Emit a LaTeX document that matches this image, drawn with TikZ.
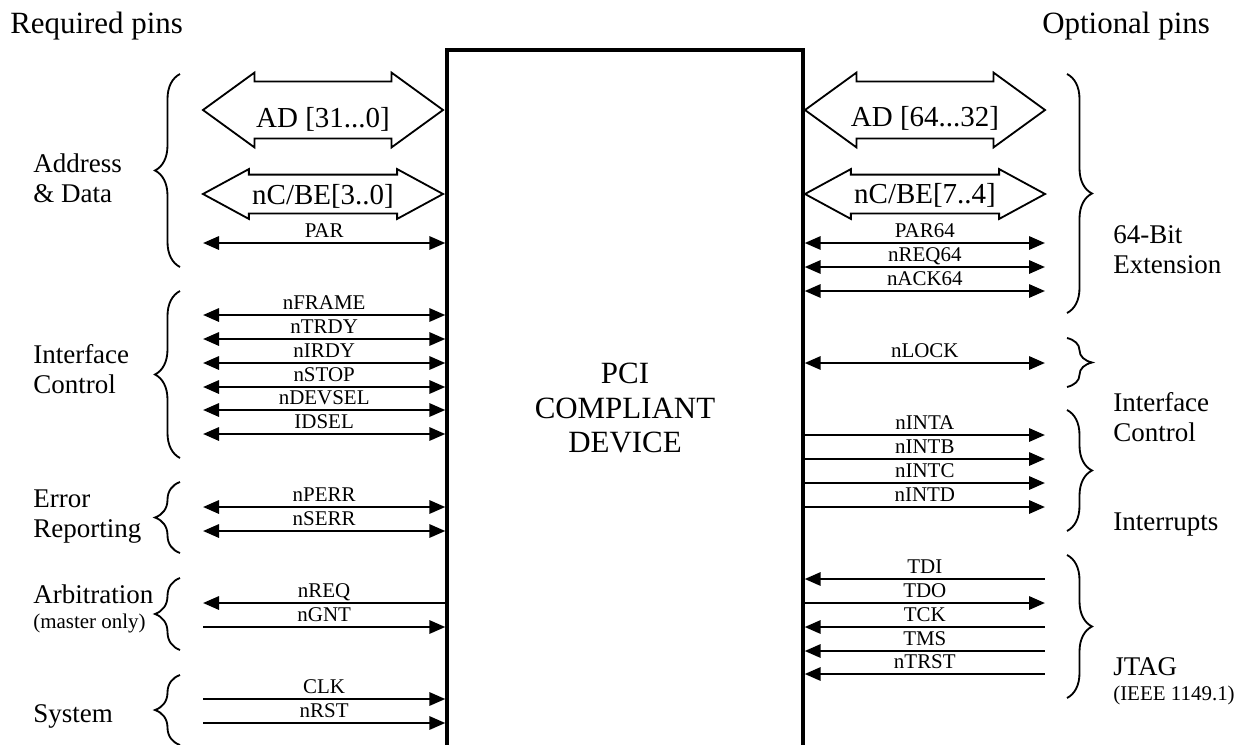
\documentclass[tikz,border=0pt]{standalone}
\usepackage{fontspec}
\setmainfont{Liberation Serif}
\usetikzlibrary{arrows.meta,shapes.arrows,decorations.pathreplacing}
\newcommand\headfont{\fontsize{22}{26}\selectfont}
\newcommand\grpfont{\fontsize{19.2}{21.3}\selectfont}
\newcommand\busfont{\fontsize{20.6}{24}\selectfont}
\newcommand\pinfont{\fontsize{14.9}{17}\selectfont}
\newcommand\chipfont{\fontsize{22}{24.2}\selectfont}

\begin{document}
\begin{tikzpicture}[
    x=0.025cm, y=-0.025cm,
    >={Triangle[length=0.4cm, width=0.33cm]},
    device/.style={draw, line width=2.3pt, minimum width=8.9cm,
                   minimum height=18.75cm, inner sep=0pt},
    chiptext/.style={font=\chipfont, align=center, inner sep=0pt},
    bus/.style={double arrow, draw, line width=1.3pt, inner xsep=0pt,
                inner ysep=0.6875cm,
                double arrow tip angle=72, double arrow head extend=0.225cm,
                minimum width=1.825cm, minimum height=6cm},
    smallbus/.style={bus, inner ysep=0.4625cm, double arrow tip angle=57,
                     double arrow head extend=0.1375cm, minimum width=1.2cm},
    buslabel/.style={font=\busfont, inner sep=0pt, anchor=base},
    wire/.style={line width=1.8pt},
    pinlabel/.style={font=\pinfont, inner sep=0pt, anchor=base, yshift=3.6pt},
    group/.style={font=\grpfont, align=left, inner sep=0pt, anchor=base west},
    hint/.style={font=\pinfont, inner sep=0pt, anchor=base west},
    title/.style={font=\headfont, inner sep=0pt, anchor=base west},
    bracket/.style={decorate, decoration={brace, amplitude=0.625cm},
                    line width=1.3pt},
]
\useasboundingbox (0,0) rectangle (1243,744);
\clip (0,0) rectangle (1243,744);

% headings
\node[title] (req) at (10,33) {Required pins};
\node[title] (opt) at (1042,33) {Optional pins};

% the device, open at the bottom of the page
\node[device] (dev) at (625,425) {};
\node[chiptext] (devname) at (625,408) {PCI\\COMPLIANT\\DEVICE};

% =====================================================================
% required pins (left)
% =====================================================================
\node[bus] (adlo) at (323,110) {};
\node[buslabel] (adlotext) at (323,127) {AD [31...0]};
\node[smallbus] (cbelo) at (323,194) {};
\node[buslabel] (cbelotext) at (323,204) {nC/BE[3..0]};

% bidirectional
\foreach \y/\pin in {243/PAR, 315/nFRAME, 339/nTRDY, 363/nIRDY, 387/nSTOP,
                     410/nDEVSEL, 434/IDSEL, 507/nPERR, 531/nSERR} {
    \coordinate (L\pin) at (203,\y);
    \draw[wire,<->] (L\pin) -- (L\pin -| dev.west)
        node[pinlabel, midway] (t\pin) {\pin};
}
% inputs
\foreach \y/\pin in {627/nGNT, 699/CLK, 723/nRST} {
    \coordinate (L\pin) at (203,\y);
    \draw[wire,->] (L\pin) -- (L\pin -| dev.west)
        node[pinlabel, midway] (t\pin) {\pin};
}
% outputs
\foreach \y/\pin in {603/nREQ} {
    \coordinate (L\pin) at (203,\y);
    \draw[wire,<-] (L\pin) -- (L\pin -| dev.west)
        node[pinlabel, midway] (t\pin) {\pin};
}

% groups (base = last line)
\draw[bracket] (180,267) -- (180,74);
\draw[bracket] (180,458) -- (180,291);
\draw[bracket] (180,553) -- (180,482);
\draw[bracket] (180,650) -- (180,578);
\draw[bracket] (180,745) -- (180,675);
\node[group] (gaddr) at (33,202) {Address\\\& Data};
\node[group] (gifc) at (33,393) {Interface\\Control};
\node[group] (gerr) at (33,537) {Error\\Reporting};
\node[group] (garb) at (33,603) {Arbitration};
\node[hint] (garbnote) at (33,628) {(master only)};
\node[group] (gsys) at (33,722) {System};

% =====================================================================
% optional pins (right)
% =====================================================================
\node[bus] (adhi) at (925,110) {};
\node[buslabel] (adhitext) at (925,126) {AD [64...32]};
\node[smallbus] (cbehi) at (925,194) {};
\node[buslabel] (cbehitext) at (925,203) {nC/BE[7..4]};

% bidirectional
\foreach \y/\pin in {243/PAR64, 267/nREQ64, 291/nACK64, 363/nLOCK} {
    \coordinate (R\pin) at (1045,\y);
    \draw[wire,<->] (R\pin -| dev.east) -- (R\pin)
        node[pinlabel, midway] (t\pin) {\pin};
}
% outputs
\foreach \y/\pin in {435/nINTA, 459/nINTB, 483/nINTC, 507/nINTD, 603/TDO} {
    \coordinate (R\pin) at (1045,\y);
    \draw[wire,->] (R\pin -| dev.east) -- (R\pin)
        node[pinlabel, midway] (t\pin) {\pin};
}
% inputs
\foreach \y/\pin in {579/TDI, 627/TCK, 651/TMS, 674/nTRST} {
    \coordinate (R\pin) at (1045,\y);
    \draw[wire,<-] (R\pin -| dev.east) -- (R\pin)
        node[pinlabel, midway] (t\pin) {\pin};
}

% groups
\draw[bracket] (1067,74) -- (1067,313);
\draw[bracket] (1067,338) -- (1067,387);
\draw[bracket] (1067,410) -- (1067,531);
\draw[bracket] (1067,555) -- (1067,698);
\node[group] (gext) at (1113,273) {64-Bit\\Extension};
\node[group] (gifc2) at (1113,441) {Interface\\Control};
\node[group] (gint) at (1113,530) {Interrupts};
\node[group] (gjtag) at (1113,675) {JTAG};
\node[hint] (gjtagnote) at (1113,700) {(IEEE 1149.1)};

\end{tikzpicture}
\end{document}
